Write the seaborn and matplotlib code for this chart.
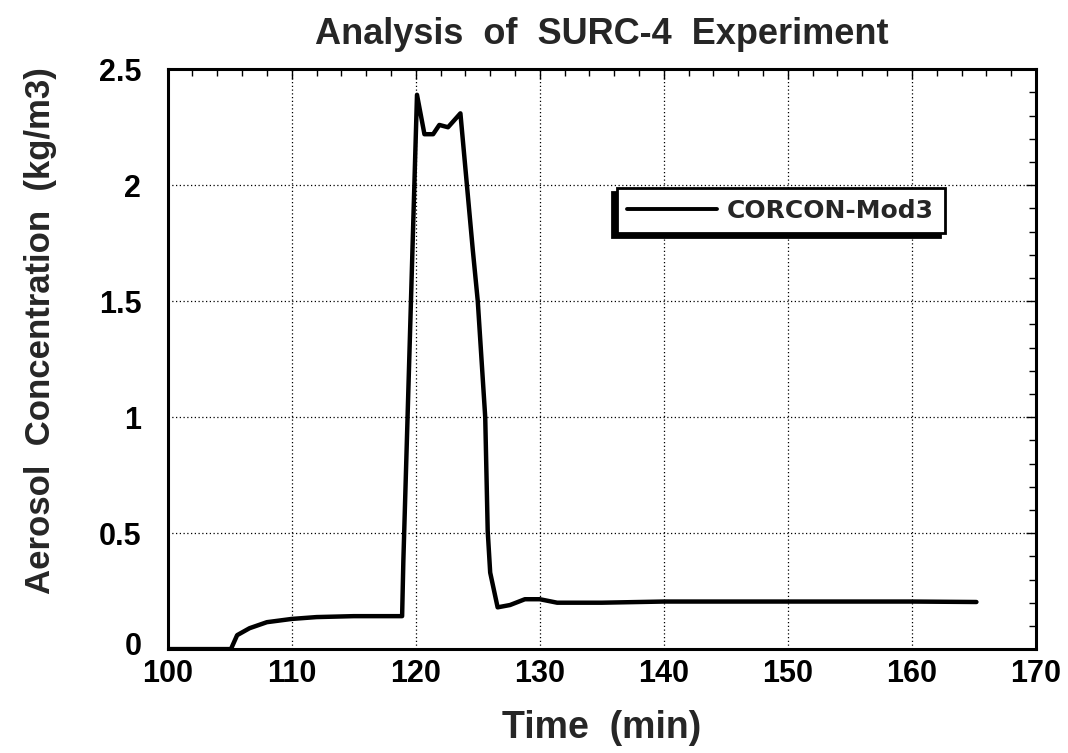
import matplotlib
matplotlib.use("Agg")
import matplotlib.pyplot as plt
import seaborn as sns
import pandas as pd
from matplotlib.patches import Shadow
from matplotlib.ticker import MultipleLocator
from matplotlib.transforms import ScaledTranslation

time_min = [100, 105.1, 105.6, 106.6, 108.0, 110.0, 112.0, 115.0, 118.9, 119.0,
            120.1, 120.7, 121.4, 121.9, 122.6, 123.6, 124.6, 125.0, 125.6, 125.8,
            126.0, 126.6, 127.6, 128.8, 130.0, 131.4, 135.0, 140.0, 150.0, 160.0, 165.2]
concentration = [0, 0, 0.06, 0.09, 0.116, 0.13, 0.138, 0.142, 0.142, 0.38,
                 2.39, 2.22, 2.22, 2.26, 2.25, 2.31, 1.72, 1.5, 1.0, 0.51,
                 0.33, 0.18, 0.19, 0.215, 0.215, 0.20, 0.20, 0.205, 0.205, 0.205, 0.203]
series_name = "CORCON-Mod3"
title = "Analysis  of  SURC-4  Experiment"
xlabel = "Time  (min)"
ylabel = "Aerosol  Concentration  (kg/m3)"
yticks = [0, 0.5, 1, 1.5, 2, 2.5]
ytick_labels = ["0", "0.5", "1", "1.5", "2", "2.5"]

df = pd.DataFrame({"Time": time_min, "Conc": concentration, "Series": series_name})

sns.set_style("white")
plt.rcParams['font.family'] = ['Liberation Sans', 'DejaVu Sans']

fig = plt.figure(figsize=(10.68, 7.53), dpi=100)
ax = fig.add_axes([0.157, 0.138, 0.970 - 0.157, 0.908 - 0.138])

sns.lineplot(data=df, x="Time", y="Conc", hue="Series", palette=["black"],
             estimator=None, sort=False, linewidth=3.2, ax=ax)

ax.set_xlim(100, 170)
ax.set_ylim(0, 2.5)
ax.xaxis.set_major_locator(MultipleLocator(10))
ax.xaxis.set_minor_locator(MultipleLocator(2))
ax.yaxis.set_minor_locator(MultipleLocator(0.1))
ax.set_yticks(yticks)
ax.set_yticklabels(ytick_labels)

ax.grid(True, which="major", color="black", linestyle=(0, (1, 2)), linewidth=0.9)
ax.tick_params(which="both", direction="in", top=True, right=True, colors="black")
ax.tick_params(which="major", length=7, width=1.0, labelsize=22)
ax.tick_params(axis="x", which="major", pad=7)
ax.tick_params(axis="y", which="major", pad=19)
ax.tick_params(which="minor", length=5, width=1.0)
for lbl in ax.get_xticklabels() + ax.get_yticklabels():
    lbl.set_fontweight("bold")
# the "0" label sits slightly above the axis line, as in the original
zero_lbl = ax.get_yticklabels()[0]
zero_lbl.set_transform(zero_lbl.get_transform() + ScaledTranslation(0, 4 / 72, fig.dpi_scale_trans))
for sp in ax.spines.values():
    sp.set_visible(True)
    sp.set_color("black")
    sp.set_linewidth(2.2)

ax.set_title(title, fontsize=26, fontweight="bold", pad=18)
ax.set_xlabel(xlabel, fontsize=27, fontweight="bold")
ax.xaxis.set_label_coords(0.5, -0.105)
ax.set_ylabel(ylabel, fontsize=25, fontweight="bold")
ax.yaxis.set_label_coords(-0.128, 0.55)

leg = ax.legend(loc="upper left", bbox_to_anchor=(0.517, 0.795), borderaxespad=0,
                frameon=True, fancybox=False, shadow=False,
                prop={"weight": "bold", "size": 18, "family": "DejaVu Sans"},
                handlelength=3.6, handletextpad=0.4, borderpad=0.42)
leg.get_frame().set_edgecolor("black")
leg.get_frame().set_linewidth(2.0)
leg.get_frame().set_facecolor("white")
leg.get_frame().set_alpha(1)
for h in leg.get_lines():
    h.set_linewidth(2.8)

fig.canvas.draw()
sh = Shadow(leg.legendPatch, -3, -3, facecolor="black", edgecolor="black", alpha=1)
sh.set_zorder(leg.get_zorder() - 0.1)
sh.set_transform(leg.legendPatch.get_transform())
ax.add_artist(sh)

fig.savefig("out.png", dpi=100, facecolor="white")
